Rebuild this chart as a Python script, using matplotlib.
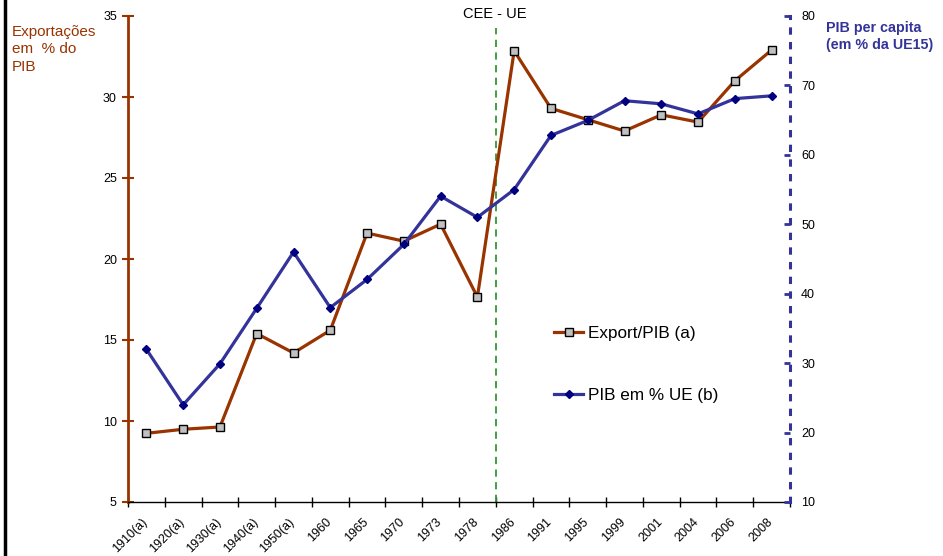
import matplotlib
matplotlib.use("Agg")
import matplotlib.pyplot as plt
import matplotlib.transforms as mtransforms
from matplotlib.lines import Line2D
import numpy as np

plt.rcParams['font.family'] = ['Liberation Sans', 'DejaVu Sans']

categories = ["1910(a)", "1920(a)", "1930(a)", "1940(a)", "1950(a)", "1960", "1965",
              "1970", "1973", "1978", "1986", "1991", "1995", "1999", "2001", "2004",
              "2006", "2008"]
export_pib = [9.24, 9.49, 9.63, 15.4, 14.2, 15.6, 21.6, 21.1, 22.15, 17.65, 32.85, 29.3,
              28.6, 27.9, 28.9, 28.45, 31.0, 32.9]
pib_ue = [32.0, 24.0, 29.9, 37.9, 46.0, 38.0, 42.05, 47.1, 54.05, 51.0, 55.0, 62.8,
          64.95, 67.8, 67.35, 65.9, 68.1, 68.5]
left_ticks = [5, 10, 15, 20, 25, 30, 35]
right_ticks = [10, 20, 30, 40, 50, 60, 70, 80]
cee_index = 9.5

BROWN = "#993300"
BLUE = "#333399"
NAVY = "#000080"
GREEN = "#339933"

fig = plt.figure(figsize=(9.43, 5.56), dpi=100)
ax = fig.add_axes([128/943, 1-502/556, (790-128)/943, 486/556])
ax2 = ax.twinx()

x = np.arange(len(categories))

ax.plot(x, export_pib, color=BROWN, lw=2.3, marker='s', markersize=5.5,
        markerfacecolor='#c0c0c0', markeredgecolor='black', markeredgewidth=1.0,
        zorder=4, label="Export/PIB (a)")
ax2.plot(x, pib_ue, color=BLUE, lw=2.3, marker='D', markersize=4.5,
         markerfacecolor=NAVY, markeredgecolor=NAVY, zorder=3, label="PIB em % UE (b)")

ax.set_xlim(-0.5, len(categories) - 0.5)
ax.set_ylim(5, 35)
ax2.set_ylim(10, 80)
ax.set_yticks(left_ticks)
ax2.set_yticks(right_ticks)

ax.set_xticks(x)
ax.set_xticklabels(categories, rotation=45, ha='right', rotation_mode='anchor', fontsize=9)
ax.set_xticks(np.arange(len(categories) + 1) - 0.5, minor=True)
ax.tick_params(axis='x', which='major', length=0, pad=10)
ax.tick_params(axis='x', which='minor', direction='inout', length=7, width=1, color='black')
offset = mtransforms.ScaledTranslation(-5/100, 0, fig.dpi_scale_trans)
for lab in ax.get_xticklabels():
    lab.set_transform(lab.get_transform() + offset)

ax.tick_params(axis='y', direction='inout', length=8, width=1.5, color=BROWN,
               labelsize=9, labelcolor='black', pad=4)
ax2.tick_params(axis='y', direction='in', length=4, width=2, color=BLUE,
                labelsize=9, labelcolor='black', pad=8)

for a in (ax, ax2):
    a.spines['top'].set_visible(False)
ax.spines['right'].set_visible(False)
ax2.spines['left'].set_visible(False)
ax2.spines['bottom'].set_visible(False)
ax.spines['left'].set_color(BROWN)
ax.spines['left'].set_linewidth(2)
ax.spines['bottom'].set_color('black')
ax.spines['bottom'].set_linewidth(1)
ax2.spines['right'].set_color(BLUE)
ax2.spines['right'].set_linewidth(2.2)
ax2.spines['right'].set_linestyle((0, (1.4, 3.4)))

ax.axvline(cee_index, ymin=0, ymax=0.975, color=GREEN, lw=1.3, ls=(0, (4, 3)), zorder=2)
fig.text(495/943, 1-14.5/556, "CEE - UE", ha='center', va='center', fontsize=10.5, color='black')

fig.text(12/943, 1-25/556, "Exportações\nem  % do\nPIB", ha='left', va='top',
         fontsize=11, color=BROWN, linespacing=1.3)
fig.text(826/943, 1-21/556, "PIB per capita\n(em % da UE15)", ha='left', va='top',
         fontsize=10.3, color=BLUE, fontweight='bold', linespacing=1.3)

handles = [
    Line2D([], [], color=BROWN, lw=2.3, marker='s', markersize=5.5,
           markerfacecolor='#c0c0c0', markeredgecolor='black', markeredgewidth=1.0),
    Line2D([], [], color=BLUE, lw=2.3, marker='D', markersize=4.5,
           markerfacecolor=NAVY, markeredgecolor=NAVY),
]
fig.legend(handles, ["Export/PIB (a)", "PIB em % UE (b)"], loc='upper left',
           bbox_to_anchor=(554/943, 1-326/556), frameon=False, fontsize=12.3,
           handlelength=1.7, handletextpad=0.3, labelspacing=2.75,
           borderpad=0, borderaxespad=0)

fig.add_artist(Line2D([5/943, 5/943], [0, 1], transform=fig.transFigure,
                      color='black', lw=2.5))

fig.savefig("out.png", dpi=100)
